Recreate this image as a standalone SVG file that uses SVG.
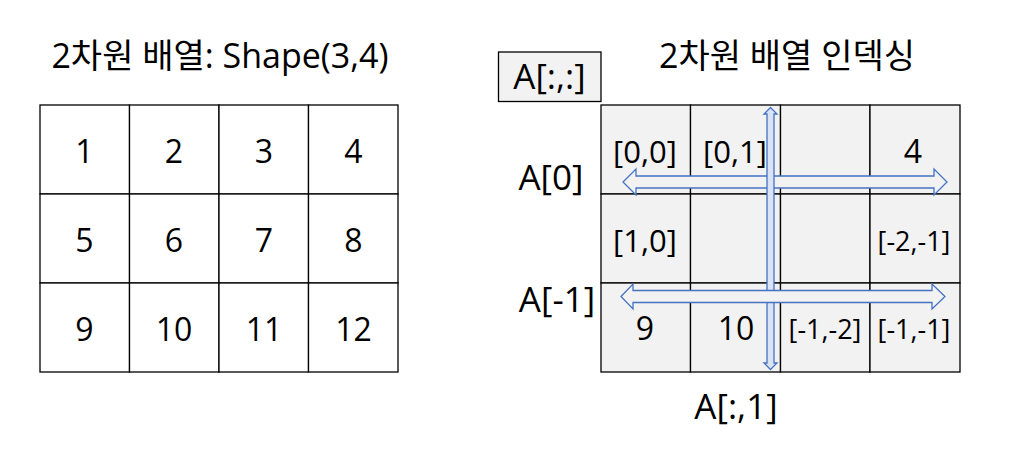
<svg xmlns="http://www.w3.org/2000/svg" width="1017" height="454" viewBox="0 0 1017 454">
<style>
text{font-family:"Open Sans","Noto Sans CJK KR",sans-serif;font-size:32px;fill:#000;text-anchor:middle}
.ttl{font-size:34px}
.lbl{font-size:35px}
.sm{font-size:31px}
.xs{font-size:27px}
.cell{fill:#fff;stroke:#000;stroke-width:1.3}
.gcell{fill:#f2f2f2;stroke:#000;stroke-width:1.3}
.arr{fill:#f2f2f2;stroke:#4472c4;stroke-width:1.3;stroke-linejoin:miter}
.varr{fill:#dae3f3;stroke:#4472c4;stroke-width:1.3}
</style>
<rect width="1017" height="454" fill="#fff"/>
<g id="title-left"><text class="ttl" x="220" y="68">2차원 배열: Shape(3,4)</text></g>
<g id="title-right"><text class="ttl" x="787" y="68">2차원 배열 인덱싱</text></g>
<g id="left-grid">
<rect class="cell" x="40" y="105" width="89.5" height="89"/>
<rect class="cell" x="129.5" y="105" width="89.5" height="89"/>
<rect class="cell" x="219" y="105" width="89.5" height="89"/>
<rect class="cell" x="308.5" y="105" width="89.5" height="89"/>
<rect class="cell" x="40" y="194" width="89.5" height="89"/>
<rect class="cell" x="129.5" y="194" width="89.5" height="89"/>
<rect class="cell" x="219" y="194" width="89.5" height="89"/>
<rect class="cell" x="308.5" y="194" width="89.5" height="89"/>
<rect class="cell" x="40" y="283" width="89.5" height="89"/>
<rect class="cell" x="129.5" y="283" width="89.5" height="89"/>
<rect class="cell" x="219" y="283" width="89.5" height="89"/>
<rect class="cell" x="308.5" y="283" width="89.5" height="89"/>
<text x="84.5" y="163">1</text><text x="174" y="163">2</text><text x="264" y="163">3</text><text x="353.5" y="163">4</text>
<text x="84.5" y="252">5</text><text x="174" y="252">6</text><text x="264" y="252">7</text><text x="353.5" y="252">8</text>
<text x="84.5" y="341">9</text><text x="174" y="341">10</text><text x="264" y="341">11</text><text x="353.5" y="341">12</text>
</g>
<g id="right-grid">
<rect class="gcell" x="601" y="105" width="89.5" height="89"/>
<rect class="gcell" x="690.5" y="105" width="90" height="89"/>
<rect class="gcell" x="780.5" y="105" width="89.5" height="89"/>
<rect class="gcell" x="870" y="105" width="90" height="89"/>
<rect class="gcell" x="601" y="194" width="89.5" height="89"/>
<rect class="gcell" x="690.5" y="194" width="90" height="89"/>
<rect class="gcell" x="780.5" y="194" width="89.5" height="89"/>
<rect class="gcell" x="870" y="194" width="90" height="89"/>
<rect class="gcell" x="601" y="283" width="89.5" height="89"/>
<rect class="gcell" x="690.5" y="283" width="90" height="89"/>
<rect class="gcell" x="780.5" y="283" width="89.5" height="89"/>
<rect class="gcell" x="870" y="283" width="90" height="89"/>
<text class="sm" x="645" y="163">[0,0]</text><text class="sm" x="735" y="163">[0,1]</text><text x="913" y="163">4</text>
<text class="sm" x="645" y="252">[1,0]</text><text class="xs" x="914" y="251">[-2,-1]</text>
<text x="645" y="340">9</text><text x="736" y="340">10</text>
<text class="xs" x="825" y="339">[-1,-2]</text><text class="xs" x="914" y="339">[-1,-1]</text>
</g>
<g id="box-all">
<rect x="498.5" y="52" width="102.5" height="49.5" fill="#f2f2f2" stroke="#000" stroke-width="1.3"/>
<text class="lbl" x="549.5" y="89">A[:,:]</text>
</g>
<g id="labels">
<text class="lbl" x="551" y="190">A[0]</text>
<text class="lbl" x="557" y="312">A[-1]</text>
<text class="lbl" x="736" y="419">A[:,1]</text>
</g>
<g id="connectors">
<path class="arr" d="M623,182 L636,169 L636,176 L934,176 L934,169 L947,182 L934,195 L934,188 L636,188 L636,195 Z"/>
<path class="varr" d="M770.5,107.5 L777,114 L774,114 L774,363 L777,363 L770.5,369.5 L764,363 L767,363 L767,114 L764,114 Z"/>
<path class="arr" d="M621,296.5 L633,284 L633,290.5 L932,290.5 L932,284 L945,296.5 L932,309 L932,302.5 L633,302.5 L633,309 Z"/>
</g>
</svg>
